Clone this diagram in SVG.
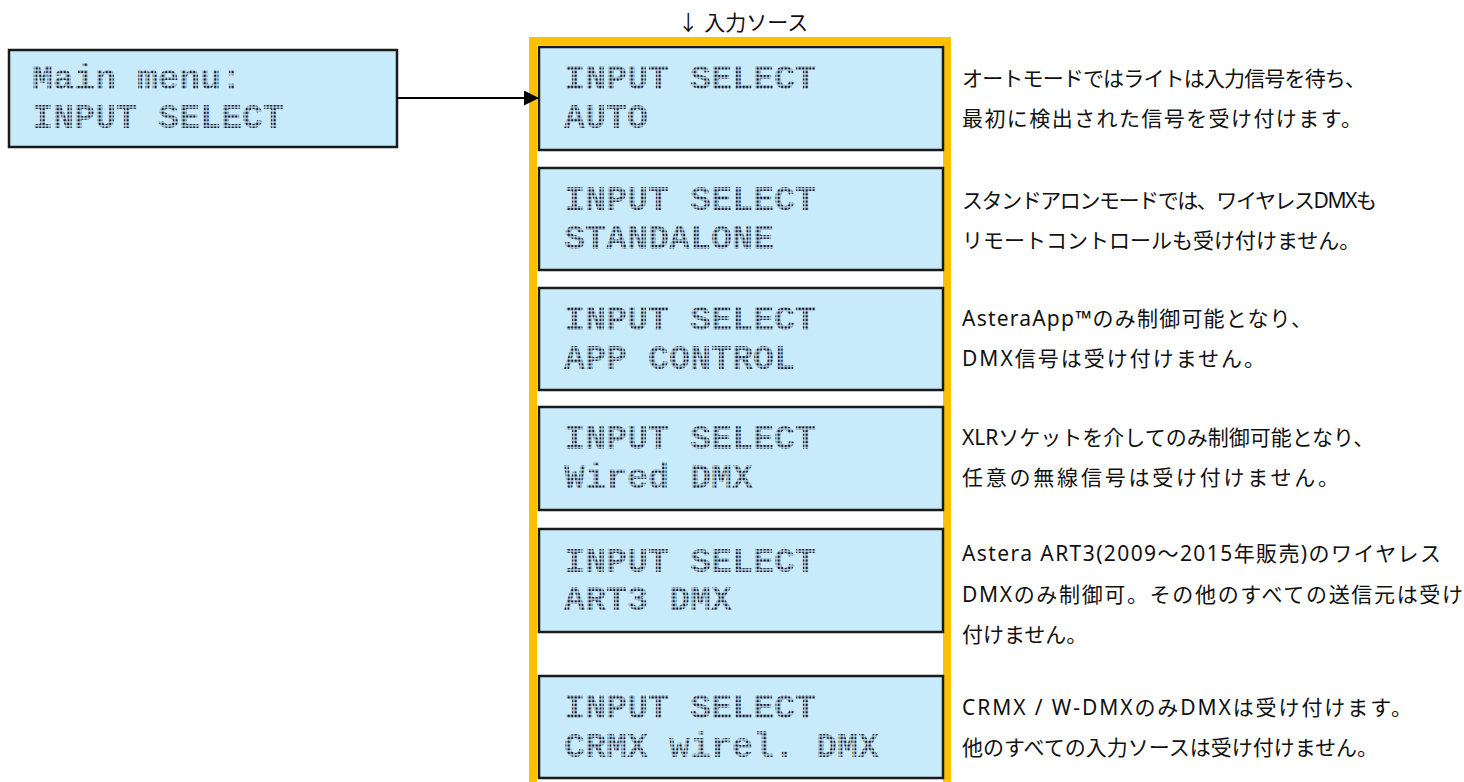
<svg xmlns="http://www.w3.org/2000/svg" width="1464" height="782" viewBox="0 0 1464 782">
  <defs>
    <pattern id="dots" patternUnits="userSpaceOnUse" x="0" y="0" width="3.5" height="3.7">
      <rect x="0.5" y="0.6" width="2.4" height="2.4" fill="#15152a"/>
    </pattern>
    <marker id="arrow" viewBox="0 0 10 10" refX="10" refY="5" markerWidth="7.5" markerHeight="7.5" markerUnits="strokeWidth" orient="auto">
      <path d="M0,0 L10,5 L0,10 z" fill="#000"/>
    </marker>
  </defs>
  <style>
    .lcd { fill: #c8ebfb; stroke: #1a1a1a; stroke-width: 2.5; }
    .lcdt { font-family: "Liberation Mono", "DejaVu Sans Mono", monospace; font-size: 35px; font-weight: bold; fill: url(#dots); white-space: pre; }
    .desc { font-family: "Noto Sans", "Noto Sans CJK JP", sans-serif; font-size: 21px; fill: #111; }
    .frame { fill: none; stroke: #ffc000; stroke-width: 8; }
  </style>
  <rect width="1464" height="782" fill="#fff"/>

  <text class="desc" x="743" y="30" text-anchor="middle">↓ 入力ソース</text>

  <rect class="frame" x="533" y="41" width="414" height="760"/>

  <g id="main-menu">
    <rect class="lcd" x="9" y="50" width="388" height="97"/>
    <text class="lcdt" x="32" y="89" xml:space="preserve">Main menu:</text>
    <text class="lcdt" x="32" y="128" xml:space="preserve">INPUT SELECT</text>
  </g>

  <g id="connectors">
    <line x1="397" y1="98" x2="539" y2="98" stroke="#000" stroke-width="2" marker-end="url(#arrow)"/>
  </g>

  <g id="auto">
    <rect class="lcd" x="539" y="47" width="404" height="103"/>
    <text class="lcdt" x="564" y="89" xml:space="preserve">INPUT SELECT</text>
    <text class="lcdt" x="564" y="128" xml:space="preserve">AUTO</text>
  </g>
  <g id="standalone">
    <rect class="lcd" x="539" y="168" width="404" height="102"/>
    <text class="lcdt" x="564" y="210" xml:space="preserve">INPUT SELECT</text>
    <text class="lcdt" x="564" y="249" xml:space="preserve">STANDALONE</text>
  </g>
  <g id="app-control">
    <rect class="lcd" x="539" y="288" width="404" height="102"/>
    <text class="lcdt" x="564" y="330" xml:space="preserve">INPUT SELECT</text>
    <text class="lcdt" x="564" y="369" xml:space="preserve">APP CONTROL</text>
  </g>
  <g id="wired-dmx">
    <rect class="lcd" x="539" y="407" width="404" height="103"/>
    <text class="lcdt" x="564" y="449" xml:space="preserve">INPUT SELECT</text>
    <text class="lcdt" x="564" y="488" xml:space="preserve">Wired DMX</text>
  </g>
  <g id="art3-dmx">
    <rect class="lcd" x="539" y="529" width="404" height="103"/>
    <text class="lcdt" x="564" y="572" xml:space="preserve">INPUT SELECT</text>
    <text class="lcdt" x="564" y="610" xml:space="preserve">ART3 DMX</text>
  </g>
  <g id="crmx-dmx">
    <rect class="lcd" x="539" y="676" width="404" height="102"/>
    <text class="lcdt" x="564" y="718" xml:space="preserve">INPUT SELECT</text>
    <text class="lcdt" x="564" y="757" xml:space="preserve">CRMX wirel. DMX</text>
  </g>

  <g id="descriptions">
    <text class="desc" x="962" y="86" textLength="404" lengthAdjust="spacing">オートモードではライトは入力信号を待ち、</text>
    <text class="desc" x="962" y="126" textLength="400" lengthAdjust="spacing">最初に検出された信号を受け付けます。</text>
    <text class="desc" x="962" y="208" textLength="415" lengthAdjust="spacing">スタンドアロンモードでは、ワイヤレスDMXも</text>
    <text class="desc" x="962" y="248">リモートコントロールも受け付けません。</text>
    <text class="desc" x="962" y="326" textLength="350" lengthAdjust="spacing">AsteraApp™のみ制御可能となり、</text>
    <text class="desc" x="962" y="366" textLength="303" lengthAdjust="spacing">DMX信号は受け付けません。</text>
    <text class="desc" x="962" y="445">XLRソケットを介してのみ制御可能となり、</text>
    <text class="desc" x="962" y="485" textLength="377" lengthAdjust="spacing">任意の無線信号は受け付けません。</text>
    <text class="desc" x="962" y="561" textLength="479" lengthAdjust="spacing">Astera ART3(2009～2015年販売)のワイヤレス</text>
    <text class="desc" x="962" y="602" textLength="501" lengthAdjust="spacing">DMXのみ制御可。その他のすべての送信元は受け</text>
    <text class="desc" x="962" y="642">付けません。</text>
    <text class="desc" x="962" y="715" textLength="450" lengthAdjust="spacing">CRMX / W-DMXのみDMXは受け付けます。</text>
    <text class="desc" x="962" y="755">他のすべての入力ソースは受け付けません。</text>
  </g>
</svg>
